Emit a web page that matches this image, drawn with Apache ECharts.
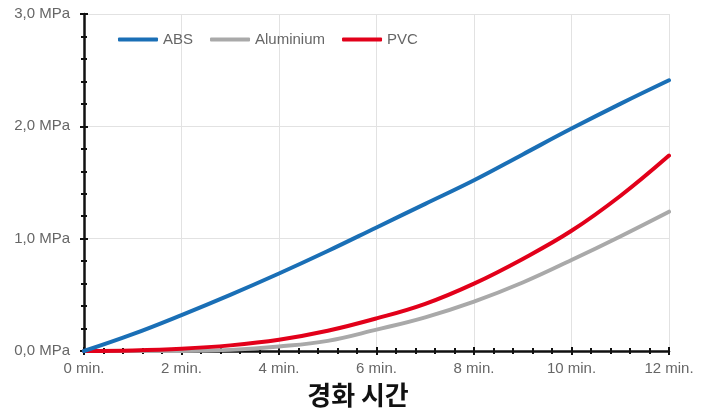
<!DOCTYPE html>
<html>
<head>
<meta charset="utf-8">
<script src="https://cdn.jsdelivr.net/npm/echarts@6/dist/echarts.min.js"></script>
<style>html,body{margin:0;padding:0;background:#fff;}#c{width:708px;height:414px;}</style>
</head>
<body>
<div id="c"></div>
<script>
var minutes = [0, 1, 2, 3, 4, 5, 6, 7, 8, 9, 10, 11, 12];
var absValues = [0, 0.15, 0.32, 0.50, 0.69, 0.89, 1.10, 1.31, 1.52, 1.75, 1.98, 2.20, 2.41];
var aluValues = [0, 0.0, 0.0, 0.01, 0.04, 0.09, 0.19, 0.30, 0.44, 0.61, 0.81, 1.02, 1.24];
var pvcValues = [0, 0.005, 0.02, 0.05, 0.10, 0.18, 0.29, 0.42, 0.60, 0.82, 1.07, 1.38, 1.74];
var seriesNames = ['ABS', 'Aluminium', 'PVC'];
var xAxisTitle = '경화 시간';

function pairs(vals) { return minutes.map(function (m, i) { return [m, vals[i]]; }); }

var font = "'Liberation Sans', Arial, sans-serif";
var chart = echarts.init(document.getElementById('c'));
var tickStyle = { color: '#111', width: 2 };
chart.setOption({
  animation: false,
  grid: { left: 84, right: 39, top: 14, bottom: 63, containLabel: false, outerBoundsMode: 'none' },
  legend: {
    left: 113, top: 27,
    itemWidth: 40, itemHeight: 4, itemGap: 17,
    icon: 'roundRect',
    textStyle: { color: '#666', fontSize: 15, fontFamily: font },
    data: seriesNames
  },
  xAxis: [{
    type: 'value', min: 0, max: 12, interval: 2, position: 'bottom',
    name: xAxisTitle, nameLocation: 'middle', nameGap: 31,
    nameTextStyle: { color: '#111', fontSize: 26, fontWeight: 'bold', fontFamily: "'Noto Sans CJK KR', sans-serif", padding: [0, 37, 0, 0] },
    axisLine: { show: true, lineStyle: { color: '#111', width: 2.5 } },
    axisTick: { show: true, length: 4, lineStyle: tickStyle },
    minorTick: { show: true, splitNumber: 5, length: 3, lineStyle: tickStyle },
    axisLabel: { color: '#666', fontSize: 15, fontFamily: font, margin: 10, formatter: function (v) { return v + ' min.'; } },
    splitLine: { show: true, lineStyle: { color: '#e2e2e2', width: 1 } }
  }, {
    type: 'value', min: 0, max: 12, interval: 2, position: 'bottom',
    axisLine: { show: false },
    axisTick: { show: true, inside: true, length: 4, lineStyle: tickStyle },
    minorTick: { show: true, splitNumber: 5, length: 3, lineStyle: tickStyle },
    axisLabel: { show: false },
    splitLine: { show: false }
  }],
  yAxis: [{
    type: 'value', min: 0, max: 3, interval: 1,
    axisLine: { show: true, lineStyle: { color: '#111', width: 2.5 } },
    axisTick: { show: true, length: 4, lineStyle: tickStyle },
    minorTick: { show: true, splitNumber: 5, length: 3, lineStyle: tickStyle },
    axisLabel: { color: '#666', fontSize: 15, fontFamily: font, margin: 14, formatter: function (v) { return v.toFixed(1).replace('.', ',') + ' MPa'; } },
    splitLine: { show: true, lineStyle: { color: '#e2e2e2', width: 1 } }
  }, {
    type: 'value', min: 0, max: 3, interval: 1, position: 'left',
    axisLine: { show: false },
    axisTick: { show: true, inside: true, length: 4, lineStyle: tickStyle },
    minorTick: { show: true, splitNumber: 5, length: 3, lineStyle: tickStyle },
    axisLabel: { show: false },
    splitLine: { show: false }
  }],
  series: [
    { name: seriesNames[0], type: 'line', smooth: 0.4, showSymbol: false, data: pairs(absValues), z: 3,
      itemStyle: { color: '#1a6fb6' }, lineStyle: { color: '#1a6fb6', width: 4, cap: 'round' } },
    { name: seriesNames[1], type: 'line', smooth: 0.4, showSymbol: false, data: pairs(aluValues), z: 1,
      itemStyle: { color: '#a9a9a9' }, lineStyle: { color: '#a9a9a9', width: 4, cap: 'round' } },
    { name: seriesNames[2], type: 'line', smooth: 0.4, showSymbol: false, data: pairs(pvcValues), z: 2,
      itemStyle: { color: '#e2001a' }, lineStyle: { color: '#e2001a', width: 4, cap: 'round' } }
  ]
});
</script>
</body>
</html>
